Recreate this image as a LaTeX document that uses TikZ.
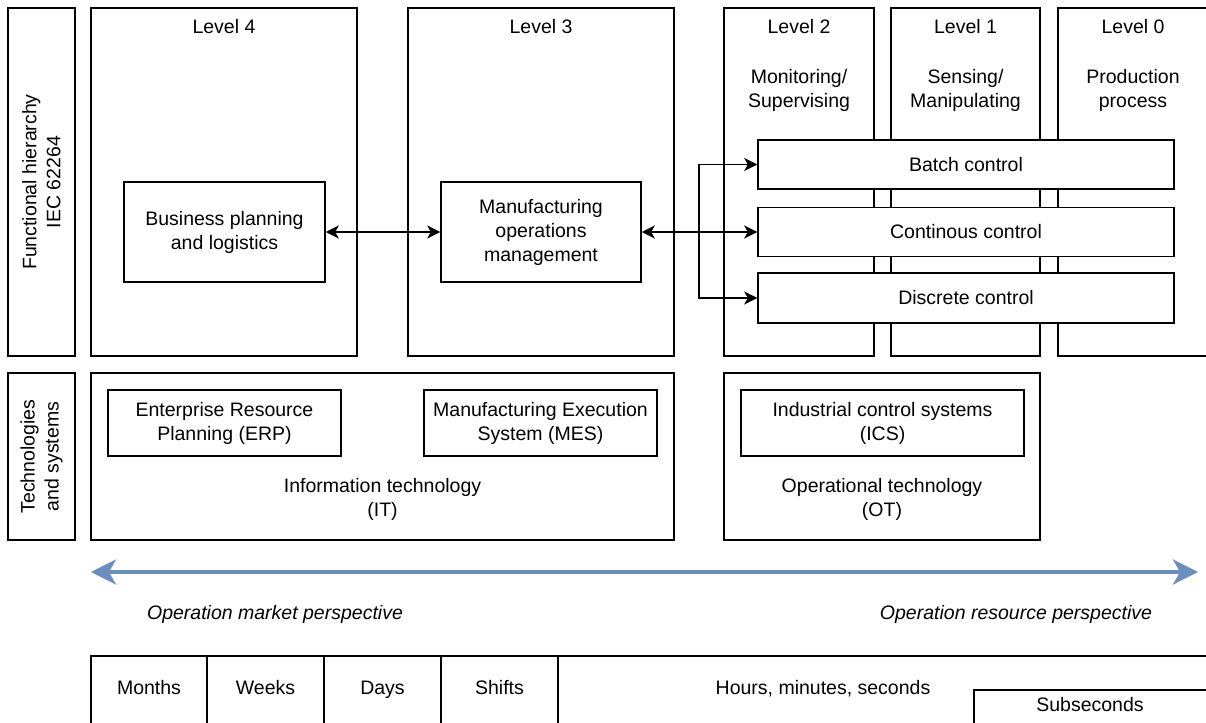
\documentclass[tikz,border=0pt]{standalone}
\usepackage{fontspec}
\setmainfont{Liberation Sans}
\usetikzlibrary{arrows.meta}
\definecolor{flowblue}{HTML}{6C8EBF}
\begin{document}
\begin{tikzpicture}[x=1pt,y=-1pt,
  font=\fontsize{19.5}{24}\selectfont,
  box/.style={draw, line width=1.5pt, inner sep=0pt, align=center},
  lbl/.style={inner sep=0pt, align=center},
  word/.style={inner sep=0pt, text height=14pt, text depth=4pt},
  conn/.style={line width=1.6pt, {Stealth[length=13pt,width=13pt,inset=3.5pt]}-{Stealth[length=13pt,width=13pt,inset=3.5pt]}},
  oneway/.style={line width=1.6pt, -{Stealth[length=13pt,width=13pt,inset=3.5pt]}},
  scale arrow/.style={line width=4pt, color=flowblue,
    {Stealth[length=25pt,width=25pt,inset=7pt]}-{Stealth[length=25pt,width=25pt,inset=7pt]}}]
\useasboundingbox (0,0) rectangle (1206,722);
\clip (0,0) rectangle (1206,722);

% row labels
\node[box, minimum width=67pt, minimum height=348pt] (labfh) at (41.5,182) {};
\node[lbl, rotate=90] (labfht) at (labfh) {Functional hierarchy\\IEC 62264};
\node[box, minimum width=67pt, minimum height=167pt] (labts) at (41.5,456.5) {};
\node[lbl, rotate=90] (labtst) at (labts) {Technologies\\and systems};

% functional levels
\node[box, minimum width=266pt, minimum height=348pt] (l4) at (224,182) {};
\node[box, minimum width=266pt, minimum height=348pt] (l3) at (541,182) {};
\node[box, minimum width=150pt, minimum height=348pt] (l2) at (799,182) {};
\node[box, minimum width=149pt, minimum height=348pt] (l1) at (965.5,182) {};
\node[box, minimum width=150pt, minimum height=348pt] (l0) at (1133,182) {};

\node[word] (l4t) at (224,29) {Level 4};
\node[word] (l3t) at (541,29) {Level 3};
\node[word] (l2t) at (799,29) {Level 2};
\node[word] (l1t) at (965.5,29) {Level 1};
\node[word] (l0t) at (1133,29) {Level 0};
\node[lbl] (l2d) at (799,90) {Monitoring/\\Supervising};
\node[lbl] (l1d) at (965.5,90) {Sensing/\\Manipulating};
\node[lbl] (l0d) at (1133,90) {Production\\process};

% functions
\node[box, minimum width=201pt, minimum height=100pt] (biz) at (224.5,232) {Business planning\\and logistics};
\node[box, minimum width=200pt, minimum height=100pt] (mom) at (541,232) {Manufacturing\\operations\\management};
\node[box, fill=white, minimum width=416pt, minimum height=49pt] (batch) at (966,164.5) {Batch control};
\node[box, fill=white, minimum width=416pt, minimum height=49pt] (cont) at (966,232) {Continous control};
\node[box, fill=white, minimum width=416pt, minimum height=50pt] (disc) at (966,298) {Discrete control};

\draw[conn] (biz.east) -- (mom.west);
\draw[conn] (mom.east) -- (cont.west);
\coordinate (split) at (699,232);
\draw[oneway] (split) |- (batch.west);
\draw[oneway] (split) |- (disc.west);

% technologies
\node[box, minimum width=583pt, minimum height=167pt] (it) at (382.5,456.5) {};
\node[box, minimum width=233pt, minimum height=66pt] (erp) at (224.5,423) {Enterprise Resource\\Planning (ERP)};
\node[box, minimum width=233pt, minimum height=66pt] (mes) at (540.5,423) {Manufacturing Execution\\System (MES)};
\node[lbl] (itt) at (382.5,499) {Information technology\\(IT)};
\node[box, minimum width=316pt, minimum height=167pt] (ot) at (882,456.5) {};
\node[box, minimum width=283pt, minimum height=66pt] (ics) at (882.5,423) {Industrial control systems\\(ICS)};
\node[lbl] (ott) at (882,499) {Operational technology\\(OT)};

% perspective axis
\coordinate (axl) at (91,572);
\coordinate (axr) at (1198,572);
\draw[scale arrow] (axl) -- (axr);
\node[word, font=\fontsize{19.5}{24}\selectfont\itshape] (pm) at (275,614) {Operation market perspective};
\node[word, font=\fontsize{19.5}{24}\selectfont\itshape] (pr) at (1016,614) {Operation resource perspective};

% time horizons
\draw[line width=1.5pt] (1230,656) -- (91,656) -- (91,740);
\foreach \xx in {207,324,441,558} \draw[line width=1.5pt] (\xx,656) -- (\xx,740);
\node[word] (tm) at (149,689) {Months};
\node[word] (tw) at (265.5,689) {Weeks};
\node[word] (td) at (382.5,689) {Days};
\node[word] (ts) at (499.5,689) {Shifts};
\node[word] (th) at (823,689) {Hours, minutes, seconds};
\draw[line width=1.5pt] (1230,690) -- (974,690) -- (974,740);
\node[word] (tss) at (1090,706) {Subseconds};
\end{tikzpicture}
\end{document}
